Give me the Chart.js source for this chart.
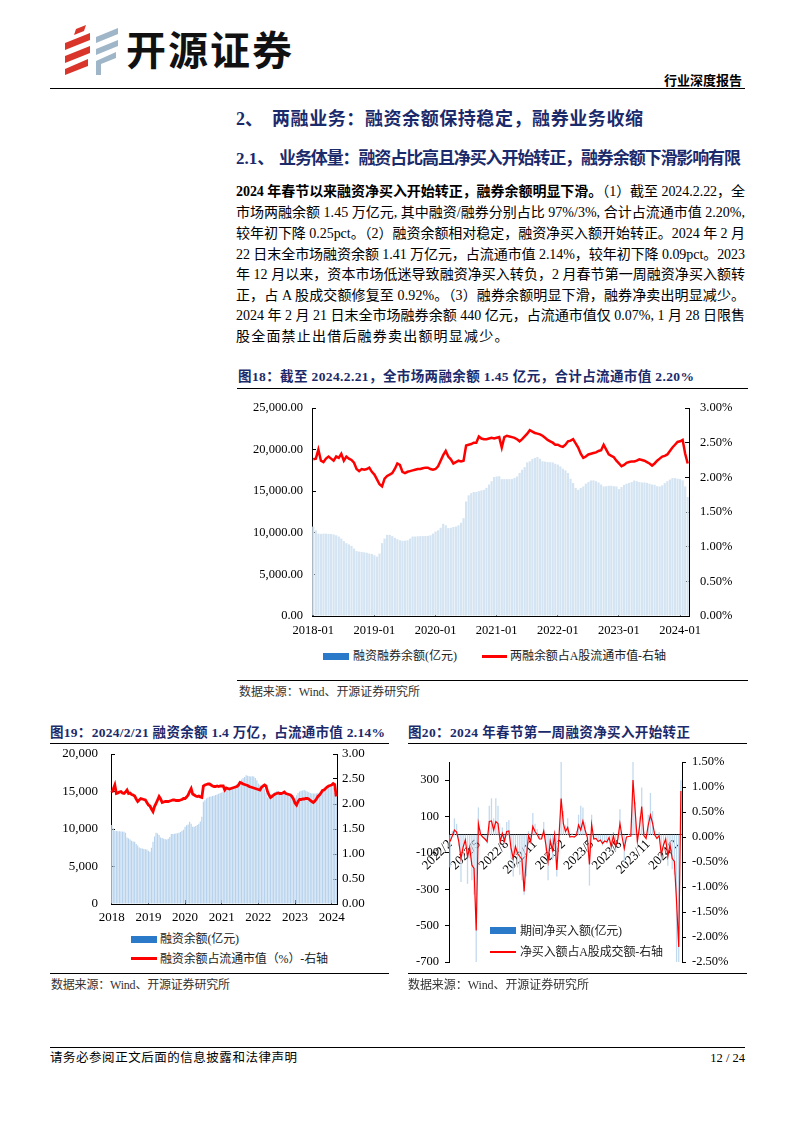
<!DOCTYPE html>
<html lang="zh-CN">
<head>
<meta charset="utf-8">
<title>两融业务</title>
<script src="https://cdn.jsdelivr.net/npm/chart.js@4.4.1/dist/chart.umd.min.js"></script>
<style>
body { margin: 0; background: #fff; }
#page { position: relative; width: 794px; height: 1123px; overflow: hidden; background: #fff;
  font-family: "Liberation Serif", "Noto Sans CJK SC", serif; color: #000; }
.t { position: absolute; white-space: nowrap; }
.rule { position: absolute; height: 0; border-top: 1px solid #000; }
.navy { color: #1b2a6b; font-weight: bold; }
.p { font-size: 14px; line-height: 20px; }
.lg { font-size: 12px; line-height: 14px; color: #222; }
.src { font-size: 12px; line-height: 14px; color: #333; }
.box { position: absolute; }
canvas { display: block; }
</style>
</head>
<body>
<div id="page">

  <svg class="box" style="left:60px;top:24px" width="62" height="52" viewBox="0 0 62 52">
    <polygon points="16,5 26,1 24,7 14,11" fill="#d9352a"/>
    <polygon points="5,19 30,9 30,16 5,26" fill="#d9352a"/>
    <polygon points="5,32 30,22 30,29 5,39" fill="#d9352a"/>
    <polygon points="5,45 28,35 28,42 5,51" fill="#d9352a"/>
    <polygon points="36,13 58,4 58,10 36,19" fill="#9fb6c8"/>
    <polygon points="36,25 58,16 58,22 36,31" fill="#9fb6c8"/>
    <polygon points="36,37 56,28 56,34 41,40 41,51 36,51" fill="#9fb6c8"/>
  </svg>
  <div class="t" style="left:126px;top:22px;font-family:'Noto Sans CJK SC';font-size:40px;line-height:52px;font-weight:bold;letter-spacing:2px;color:#111">开源证券</div>
  <div class="t" style="right:52px;top:72px;font-family:'Noto Sans CJK SC';font-size:13px;line-height:16px;font-weight:bold">行业深度报告</div>
  <div class="rule" style="left:50px;top:88px;width:695px;border-top-width:1.5px"></div>

  <div class="t navy" style="left:236px;top:107px;font-size:18px;line-height:24px">2、</div>
  <div class="t navy fit" data-w="371" style="left:272px;top:107px;font-size:18px;line-height:24px">两融业务：融资余额保持稳定，融券业务收缩</div>
  <div class="t navy" style="left:236px;top:148px;font-size:17px;line-height:22px">2.1、</div>
  <div class="t navy fit" data-w="462" style="left:279px;top:148px;font-size:17px;line-height:22px">业务体量：融资占比高且净买入开始转正，融券余额下滑影响有限</div>

  <div class="t p fit" data-w="509" style="left:236px;top:182px"><b>2024 年春节以来融资净买入开始转正，融券余额明显下滑。</b>（1）截至 2024.2.22，全</div>
  <div class="t p fit" data-w="509" style="left:236px;top:203px">市场两融余额 1.45 万亿元, 其中融资/融券分别占比 97%/3%, 合计占流通市值 2.20%,</div>
  <div class="t p fit" data-w="509" style="left:236px;top:223.5px">较年初下降 0.25pct。（2）融资余额相对稳定，融资净买入额开始转正。2024 年 2 月</div>
  <div class="t p fit" data-w="509" style="left:236px;top:244.5px">22 日末全市场融资余额 1.41 万亿元，占流通市值 2.14%，较年初下降 0.09pct。2023</div>
  <div class="t p fit" data-w="509" style="left:236px;top:265px">年 12 月以来，资本市场低迷导致融资净买入转负，2 月春节第一周融资净买入额转</div>
  <div class="t p fit" data-w="509" style="left:236px;top:285.5px">正，占 A 股成交额修复至 0.92%。（3）融券余额明显下滑，融券净卖出明显减少。</div>
  <div class="t p fit" data-w="509" style="left:236px;top:306px">2024 年 2 月 21 日末全市场融券余额 440 亿元，占流通市值仅 0.07%, 1 月 28 日限售</div>
  <div class="t p" style="left:236px;top:327px;letter-spacing:1.2px">股全面禁止出借后融券卖出额明显减少。</div>

  <div class="t navy fit" data-w="456" style="left:238px;top:369px;font-size:13.5px;line-height:16px">图18：截至 2024.2.21，全市场两融余额 1.45 亿元，合计占流通市值 2.20%</div>
  <div class="rule" style="left:237px;top:388px;width:511px"></div>
  <div class="box" style="left:236px;top:395px;width:512px;height:250px"><canvas id="c18" width="512" height="250"></canvas></div>
  <div class="box" style="left:323px;top:653px;width:26px;height:7px;background:#2b79c9"></div>
  <div class="t lg fit" data-w="104" style="left:353px;top:649px">融资融券余额(亿元)</div>
  <div class="box" style="left:482px;top:655px;width:25px;height:3px;background:#ff0000"></div>
  <div class="t lg fit" data-w="156" style="left:510px;top:649px">两融余额占A股流通市值-右轴</div>
  <div class="rule" style="left:237px;top:680px;width:511px"></div>
  <div class="t src fit" data-w="181" style="left:239px;top:685px">数据来源：Wind、开源证券研究所</div>

  <div class="t navy fit" data-w="335" style="left:50px;top:725px;font-size:13.5px;line-height:16px">图19：2024/2/21 融资余额 1.4 万亿，占流通市值 2.14%</div>
  <div class="rule" style="left:50px;top:743px;width:339px"></div>
  <div class="box" style="left:50px;top:746px;width:337px;height:180px"><canvas id="c19" width="337" height="180"></canvas></div>
  <div class="box" style="left:131px;top:936px;width:26px;height:7px;background:#2b79c9"></div>
  <div class="t lg fit" data-w="79" style="left:160px;top:932px">融资余额(亿元)</div>
  <div class="box" style="left:131px;top:957px;width:26px;height:3px;background:#ff0000"></div>
  <div class="t lg fit" data-w="168" style="left:160px;top:952px">融资余额占流通市值（%）-右轴</div>
  <div class="rule" style="left:50px;top:973px;width:339px"></div>
  <div class="t src fit" data-w="179" style="left:51px;top:978px">数据来源：Wind、开源证券研究所</div>

  <div class="t navy fit" data-w="282" style="left:408px;top:725px;font-size:13.5px;line-height:16px">图20：2024 年春节第一周融资净买入开始转正</div>
  <div class="rule" style="left:408px;top:743px;width:339px"></div>
  <div class="box" style="left:400px;top:752px;width:350px;height:220px"><canvas id="c20" width="350" height="220"></canvas></div>
  <div class="box" style="left:490px;top:927px;width:26px;height:7px;background:#2b79c9"></div>
  <div class="t lg fit" data-w="102" style="left:520px;top:923.5px">期间净买入额(亿元)</div>
  <div class="box" style="left:490px;top:951px;width:26px;height:1.5px;background:#ff0000"></div>
  <div class="t lg fit" data-w="143" style="left:520px;top:945px">净买入额占A股成交额-右轴</div>
  <div class="rule" style="left:408px;top:973px;width:339px"></div>
  <div class="t src fit" data-w="181" style="left:408px;top:978px">数据来源：Wind、开源证券研究所</div>

  <div class="rule" style="left:50px;top:1047px;width:695px"></div>
  <div class="t fit" data-w="247" style="left:50px;top:1050px;font-size:12.5px;line-height:16px">请务必参阅正文后面的信息披露和法律声明</div>
  <div class="t" style="right:49px;top:1050px;font-size:12.5px;line-height:16px">12 / 24</div>
</div>

<script>
// 图18 两融余额（亿元）与占流通市值（%），半月取值 2018-01 ~ 2024-02
const rzrqBalance = [
    10750, 10300, 9900, 9870, 9900, 9900, 9870, 9850, 9800, 9700, 9550, 9300,
    9000, 8750, 8600, 8430, 8100, 7800, 7740, 7700, 7650, 7600, 7500, 7460,
    7300, 7140, 7500, 8750, 9300, 9750, 9750, 9600, 9400, 9230, 9100, 9040,
    9050, 9100, 9300, 9550, 9550, 9580, 9600, 9600, 9620, 9630, 9700, 9900,
    10150, 10300, 10600, 11080, 10900, 10560, 10600, 10700, 10750, 10900, 11200, 11760,
    13760, 14500, 14760, 14900, 14900, 15000, 15100, 15160, 15400, 15800, 16200, 16700,
    16770, 16800, 16450, 16450, 16450, 16450, 16450, 16600, 16770, 17200, 17580, 17900,
    18460, 18600, 18860, 19000, 19100, 18900, 18600, 18560, 18500, 18480, 18460, 18300,
    18200, 17980, 17700, 17500, 17180, 16500, 15980, 15400, 15170, 15400, 15570, 15900,
    16100, 16290, 16300, 16200, 16050, 15800, 15570, 15600, 15650, 15650, 15600, 15570,
    15250, 15500, 15770, 15900, 16000, 16100, 16290, 16200, 16100, 16050, 16050, 16000,
    15900, 15800, 15770, 15600, 15570, 15700, 15970, 16200, 16400, 16570, 16570, 16500,
    16450, 16300, 15570, 14300
];
const rzrqPct = [
    2.26, 2.27, 2.40, 2.24, 2.22, 2.27, 2.30, 2.27, 2.24, 2.30, 2.28, 2.34,
    2.24, 2.30, 2.27, 2.25, 2.21, 2.12, 2.09, 2.12, 2.11, 2.12, 2.14, 2.08,
    2.04, 1.97, 1.90, 1.87, 1.98, 2.02, 2.04, 2.06, 2.12, 2.20, 2.18, 2.08,
    2.06, 2.08, 2.09, 2.10, 2.11, 2.12, 2.12, 2.13, 2.14, 2.14, 2.12, 2.11,
    2.12, 2.16, 2.24, 2.32, 2.38, 2.30, 2.26, 2.20, 2.22, 2.24, 2.23, 2.24,
    2.46, 2.47, 2.48, 2.50, 2.50, 2.59, 2.56, 2.55, 2.55, 2.56, 2.57, 2.56,
    2.57, 2.58, 2.43, 2.58, 2.60, 2.59, 2.58, 2.57, 2.55, 2.52, 2.55, 2.59,
    2.63, 2.68, 2.66, 2.64, 2.63, 2.62, 2.60, 2.57, 2.54, 2.52, 2.50, 2.47,
    2.47, 2.45, 2.44, 2.47, 2.52, 2.53, 2.55, 2.49, 2.43, 2.34, 2.28, 2.30,
    2.33, 2.34, 2.35, 2.36, 2.38, 2.39, 2.47, 2.40, 2.33, 2.31, 2.29, 2.24,
    2.20, 2.16, 2.18, 2.21, 2.22, 2.23, 2.23, 2.24, 2.26, 2.25, 2.24, 2.22,
    2.20, 2.17, 2.20, 2.24, 2.27, 2.30, 2.31, 2.33, 2.38, 2.43, 2.47, 2.51,
    2.52, 2.54, 2.34, 2.20
];

// 图19 融资余额（亿元）与占流通市值（%）
const rzBalance = [
    10520, 10100, 9770, 9750, 9700, 9700, 9680, 9660, 9640, 9500, 8880, 8750,
    8600, 8450, 8350, 8300, 8000, 7800, 7550, 7450, 7400, 7350, 7300, 7280,
    7100, 6970, 7500, 8300, 9000, 9500, 9400, 9200, 8880, 8800, 8700, 8650,
    8610, 8700, 8950, 9320, 9350, 9380, 9410, 9420, 9500, 9600, 9770, 9900,
    10300, 10500, 10600, 10970, 10700, 10300, 10300, 10400, 10520, 10700, 11000, 11630,
    13630, 13850, 14070, 14200, 14300, 14350, 14400, 14450, 14520, 14600, 14700, 14800,
    14870, 15000, 15100, 15200, 15400, 15400, 15450, 15500, 15630, 15800, 16000, 16200,
    16430, 16600, 16800, 16950, 17180, 17100, 17050, 17000, 17050, 17000, 16800, 16500,
    16070, 15900, 15700, 15630, 15300, 14800, 14210, 14300, 14500, 14740, 14800, 14900,
    15100, 15050, 15000, 14950, 14830, 14700, 14600, 14550, 14520, 14400, 14350, 14300,
    14210, 14500, 14800, 15000, 15100, 15150, 15190, 15100, 15000, 14900, 14800, 14740,
    14750, 14740, 14740, 14800, 14900, 15050, 15200, 15400, 15600, 15750, 15850, 15800,
    15630, 15500, 14800, 14300
];
const rzPct = [
    2.23, 2.30, 2.38, 2.21, 2.22, 2.24, 2.25, 2.22, 2.21, 2.24, 2.28, 2.21,
    2.22, 2.19, 2.18, 2.16, 2.10, 2.05, 2.08, 2.11, 2.10, 2.09, 2.08, 2.03,
    1.98, 1.96, 1.90, 1.85, 1.95, 2.01, 2.08, 2.15, 2.10, 2.03, 2.04, 2.05,
    2.05, 2.05, 2.06, 2.07, 2.08, 2.08, 2.07, 2.07, 2.07, 2.08, 2.09, 2.11,
    2.11, 2.14, 2.18, 2.25, 2.31, 2.20, 2.18, 2.16, 2.15, 2.16, 2.14, 2.13,
    2.36, 2.38, 2.39, 2.40, 2.40, 2.38, 2.36, 2.35, 2.35, 2.36, 2.35, 2.36,
    2.36, 2.36, 2.28, 2.32, 2.31, 2.30, 2.31, 2.32, 2.33, 2.34, 2.35, 2.38,
    2.43, 2.42, 2.40, 2.39, 2.38, 2.37, 2.35, 2.34, 2.33, 2.32, 2.31, 2.30,
    2.29, 2.28, 2.33, 2.36, 2.38, 2.36, 2.25, 2.18, 2.13, 2.15, 2.18, 2.20,
    2.21, 2.22, 2.21, 2.21, 2.22, 2.24, 2.21, 2.20, 2.19, 2.18, 2.15, 2.10,
    2.02, 1.98, 2.05, 2.09, 2.09, 2.10, 2.10, 2.11, 2.11, 2.10, 2.07, 2.05,
    2.03, 2.06, 2.10, 2.15, 2.18, 2.22, 2.27, 2.28, 2.31, 2.34, 2.36, 2.37,
    2.38, 2.41, 2.39, 2.15
];

// 图20 每周融资净买入额（亿元）与占A股成交额（%），2022/2 ~ 2024/2
const netBuy = [
    -180, 20, 90, 60, -60, -260, -120, -40, -270, -130,
    -250, -330, -700, 150, 30, 0, -20, -50, 160, 200,
    90, 200, 160, -40, 40, -50, 70, 80, -130, -230,
    -110, -180, -220, -250, -330, -230, 20, -50, 120, 60,
    30, -20, -20, 70, -90, -250, -40, -140, 20, -230,
    0, 400, 130, 50, 90, 0, 10, 0, 20, 110,
    160, 150, 70, 0, -280, 110, -20, -15, -40, -30,
    -60, -40, -50, -5, -90, 15, -90, -20, 140, 0,
    -150, 0, 5, 10, 400, 180, -40, 100, 260, 15,
    -15, 110, 230, 130, 20, -15, 15, -150, -70, -20,
    -170, -70, -190, -220, -700, -700, 300
];
const netBuyPct = [
    -0.09, 0.02, 0.14, 0.10, -0.09, -0.43, -0.20, -0.06, -0.39, -0.21,
    -0.56, -0.63, -1.87, 0.27, 0.05, 0.00, -0.04, -0.09, 0.31, 0.32,
    0.14, 0.31, 0.27, -0.09, 0.07, -0.08, 0.11, 0.12, -0.23, -0.43,
    -0.19, -0.33, -0.39, -0.45, -1.09, -0.43, 0.03, -0.09, 0.21, 0.11,
    0.05, -0.04, -0.04, 0.12, -0.16, -0.49, -0.08, -0.26, 0.04, -0.66,
    0.00, 0.77, 0.27, 0.11, 0.19, 0.00, 0.01, 0.00, 0.03, 0.24,
    0.14, 0.32, 0.14, 0.00, -0.55, 0.25, -0.04, -0.03, -0.09, -0.06,
    -0.13, -0.08, -0.10, -0.01, -0.19, 0.03, -0.19, -0.05, 0.27, 0.00,
    -0.23, 0.00, 0.01, 0.02, 1.14, 0.51, -0.09, 0.21, 0.61, 0.03,
    -0.03, 0.24, 0.44, 0.27, 0.04, -0.03, 0.03, -0.35, -0.16, -0.04,
    -0.39, -0.16, -0.43, -0.49, -1.29, -2.20, 0.92
];
const weekTicks = ["2022/2", "2022/5", "2022/8", "2022/11", "2023/2", "2023/5", "2023/8", "2023/11", "2024/2"];

// 半月日期标签
const halfMonths = [];
for (let y = 2018; y <= 2024; y++) {
    for (let m = 1; m <= 12; m++) {
        if (y === 2024 && m > 2) break;
        const mm = (m < 10 ? "0" : "") + m;
        halfMonths.push(y + "-" + mm + "-01", y + "-" + mm + "-16");
    }
}
const weeks = [];
for (let i = 0; i < netBuy.length; i++) {
    const d = new Date(2022, 1, 11 + 7 * i);
    weeks.push(d.getFullYear() + "/" + (d.getMonth() + 1) + "/" + d.getDate());
}

// 文字宽度对齐
document.querySelectorAll(".fit").forEach(function (el) {
    const n = Array.from(el.textContent).length;
    el.style.letterSpacing = "0px";
    const w = el.getBoundingClientRect().width;
    el.style.letterSpacing = ((Number(el.dataset.w) - w) / (n - 1)) + "px";
});

Chart.defaults.font.family = "'Liberation Serif', 'Noto Sans CJK SC', serif";
Chart.defaults.color = "#000";

function isYearStart(i) {
    return halfMonths[i] !== undefined && halfMonths[i].endsWith("-01-01");
}

// 固定轴宽，不让刻度标签再撑开绘图区
function fixWidth(w) {
    return function (s) {
        s.width = w;
        s.paddingTop = 0;
        s.paddingBottom = 0;
    };
}

function creerGraphique18() {
    return new Chart(document.getElementById("c18"), {
        data: {
            labels: halfMonths,
            datasets: [
                {
                    type: "line",
                    label: "两融余额占A股流通市值-右轴",
                    data: rzrqPct,
                    yAxisID: "y1",
                    borderColor: "#ff0000",
                    borderWidth: 2.5,
                    pointRadius: 0,
                    tension: 0,
                    order: 0,
                },
                {
                    type: "bar",
                    label: "融资融券余额(亿元)",
                    data: rzrqBalance,
                    yAxisID: "y",
                    backgroundColor: "#d4e4f2",
                    barPercentage: 1,
                    categoryPercentage: 0.85,
                    order: 1,
                },
            ],
        },
        options: {
            responsive: false,
            devicePixelRatio: 1,
            animation: false,
            layout: { padding: { top: 13, left: 0, right: 0, bottom: 0 } },
            plugins: { legend: { display: false }, tooltip: { enabled: false } },
            scales: {
                x: {
                    grid: {
                        offset: false,
                        drawOnChartArea: false,
                        tickLength: -4,
                        color: ctx => isYearStart(ctx.index) ? "#000" : "rgba(0,0,0,0)",
                    },
                    border: { color: "#000", width: 1 },
                    ticks: {
                        autoSkip: false,
                        maxRotation: 0,
                        padding: 11,
                        font: { size: 12.5 },
                        callback: (v, i) => isYearStart(i) ? halfMonths[i].slice(0, 7) : "",
                    },
                    afterFit: s => { s.height = 29; },
                },
                y: {
                    position: "left",
                    min: 0,
                    max: 25000,
                    ticks: {
                        stepSize: 5000,
                        padding: 13,
                        font: { size: 12.5 },
                        callback: v => v.toLocaleString("en-US", { minimumFractionDigits: 2, maximumFractionDigits: 2 }),
                    },
                    grid: { drawOnChartArea: false, tickLength: -4, color: "#000" },
                    border: { color: "#000", width: 1 },
                    afterFit: fixWidth(76),
                },
                y1: {
                    position: "right",
                    min: 0,
                    max: 3,
                    ticks: {
                        stepSize: 0.5,
                        padding: 15,
                        font: { size: 12.5 },
                        callback: v => v.toFixed(2) + "%",
                    },
                    grid: { drawOnChartArea: false, tickLength: -4, color: "#000" },
                    border: { color: "#000", width: 1 },
                    afterFit: fixWidth(59),
                },
            },
        },
    });
}

function creerGraphique19() {
    return new Chart(document.getElementById("c19"), {
        data: {
            labels: halfMonths,
            datasets: [
                {
                    type: "line",
                    label: "融资余额占流通市值（%）-右轴",
                    data: rzPct,
                    yAxisID: "y1",
                    borderColor: "#ff0000",
                    borderWidth: 2.8,
                    pointRadius: 0,
                    tension: 0,
                    order: 0,
                },
                {
                    type: "bar",
                    label: "融资余额(亿元)",
                    data: rzBalance,
                    yAxisID: "y",
                    backgroundColor: "#b6d2ec",
                    barPercentage: 1,
                    categoryPercentage: 0.75,
                    order: 1,
                },
            ],
        },
        options: {
            responsive: false,
            devicePixelRatio: 1,
            animation: false,
            layout: { padding: { top: 8, left: 0, right: 0, bottom: 0 } },
            plugins: { legend: { display: false }, tooltip: { enabled: false } },
            scales: {
                x: {
                    grid: {
                        offset: false,
                        drawOnChartArea: false,
                        tickLength: -4,
                        color: ctx => isYearStart(ctx.index) ? "#000" : "rgba(0,0,0,0)",
                    },
                    border: { color: "#000", width: 1 },
                    ticks: {
                        autoSkip: false,
                        maxRotation: 0,
                        padding: 10,
                        font: { size: 13 },
                        callback: (v, i) => isYearStart(i) ? halfMonths[i].slice(0, 4) : "",
                    },
                    afterFit: s => { s.height = 22; },
                },
                y: {
                    position: "left",
                    min: 0,
                    max: 20000,
                    ticks: {
                        stepSize: 5000,
                        padding: 17,
                        font: { size: 13 },
                        callback: v => v.toLocaleString("en-US"),
                    },
                    grid: { drawOnChartArea: false, tickLength: -4, color: "#000" },
                    border: { color: "#000", width: 1 },
                    afterFit: fixWidth(61),
                },
                y1: {
                    position: "right",
                    min: 0,
                    max: 3,
                    ticks: {
                        stepSize: 0.5,
                        padding: 9,
                        font: { size: 13 },
                        callback: v => v.toFixed(2),
                    },
                    grid: { drawOnChartArea: false, tickLength: -4, color: "#000" },
                    border: { color: "#000", width: 1 },
                    afterFit: fixWidth(50),
                },
            },
        },
    });
}

function creerGraphique20() {
    return new Chart(document.getElementById("c20"), {
        data: {
            labels: weeks,
            datasets: [
                {
                    type: "line",
                    label: "净买入额占A股成交额-右轴",
                    data: netBuyPct,
                    yAxisID: "y1",
                    borderColor: "#ff0000",
                    borderWidth: 1.2,
                    pointRadius: 0,
                    tension: 0,
                    order: 0,
                },
                {
                    type: "bar",
                    label: "期间净买入额(亿元)",
                    data: netBuy,
                    yAxisID: "y",
                    backgroundColor: "#c3daee",
                    barPercentage: 0.6,
                    categoryPercentage: 1,
                    order: 1,
                },
            ],
        },
        options: {
            responsive: false,
            devicePixelRatio: 1,
            animation: false,
            layout: { padding: { top: 10, left: 0, right: 0, bottom: 10 } },
            plugins: { legend: { display: false }, tooltip: { enabled: false } },
            scales: {
                x: {
                    position: { y: 0 },
                    grid: { display: false, drawTicks: false },
                    border: { display: true, color: "#000", width: 1 },
                    ticks: {
                        autoSkip: false,
                        minRotation: 45,
                        maxRotation: 45,
                        padding: 2,
                        font: { size: 13 },
                        callback: (v, i) => i % 13 === 0 ? weekTicks[i / 13] : "",
                    },
                },
                y: {
                    position: "left",
                    min: -700,
                    max: 400,
                    afterBuildTicks: s => {
                        s.ticks = [-700, -500, -300, -100, 100, 300].map(v => ({ value: v }));
                    },
                    ticks: { padding: 6, font: { size: 12.5 } },
                    grid: { drawOnChartArea: false, tickLength: 4, color: "#000" },
                    border: { color: "#000", width: 1 },
                    afterFit: fixWidth(49),
                },
                y1: {
                    position: "right",
                    min: -2.5,
                    max: 1.5,
                    ticks: {
                        stepSize: 0.5,
                        padding: 6,
                        font: { size: 12.5 },
                        callback: v => v.toFixed(2) + "%",
                    },
                    grid: { drawOnChartArea: false, tickLength: 4, color: "#000" },
                    border: { color: "#000", width: 1 },
                    afterFit: fixWidth(68),
                },
            },
        },
    });
}

creerGraphique18();
creerGraphique19();
creerGraphique20();
</script>
</body>
</html>
